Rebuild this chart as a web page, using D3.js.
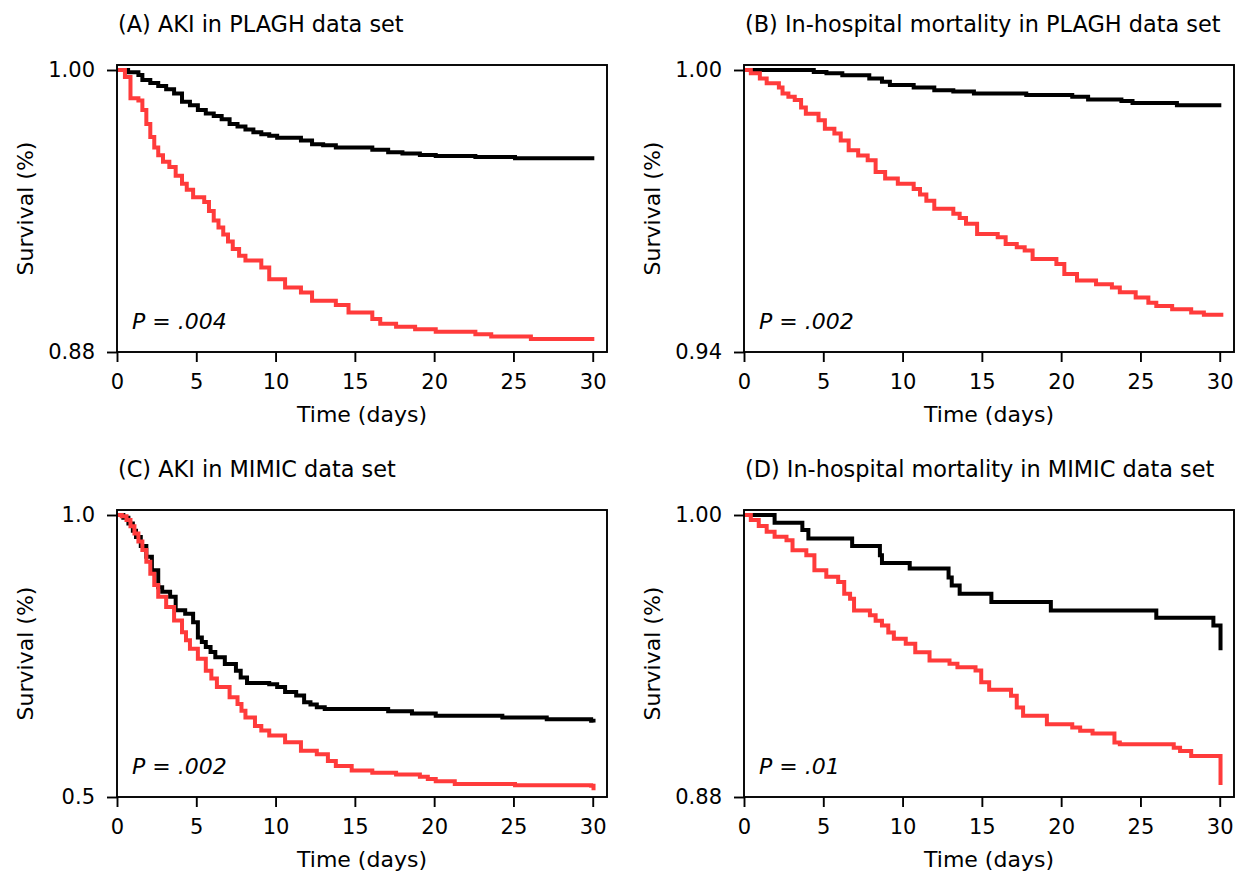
<!DOCTYPE html>
<html>
<head>
<meta charset="utf-8">
<script src="https://cdn.jsdelivr.net/npm/d3@7"></script>
<style>
  body { margin: 0; background: #fff; }
  text { font-family: "DejaVu Sans", sans-serif; fill: #000; }
</style>
</head>
<body>
<div id="chart"></div>
<script>

var svgWidth = 1242;
var svgHeight = 873;

// x ticks shared by all panels
var xTicks = [0, 5, 10, 15, 20, 25, 30];

// (A) AKI in PLAGH
var aLowT = [0, 0.7, 1.35, 1.6, 2.1, 2.6, 3.1, 3.6, 4.1, 4.6, 5.1, 5.6, 6.1, 6.6, 7.1, 7.6, 8.1, 8.6, 9.1, 9.6, 10.1, 11.6, 12.3, 13.0, 13.8, 16.1, 17.1, 18.0, 19.1, 20.1, 22.6, 25.1, 30.1];
var aLowS = [1, 0.999, 0.9979, 0.9957, 0.9945, 0.9932, 0.9918, 0.990, 0.9865, 0.985, 0.983, 0.9815, 0.9804, 0.979, 0.977, 0.976, 0.9747, 0.9735, 0.9727, 0.972, 0.9712, 0.970, 0.9684, 0.968, 0.967, 0.9661, 0.965, 0.9645, 0.9638, 0.9634, 0.963, 0.9624, 0.9624];
var aHighT = [0, 0.5, 0.85, 1.35, 1.6, 1.85, 2.1, 2.35, 2.6, 2.9, 3.3, 3.7, 4.1, 4.4, 4.8, 5.5, 5.8, 6.1, 6.4, 6.7, 7.0, 7.3, 7.7, 8.1, 9.1, 9.6, 10.6, 11.6, 12.3, 13.8, 14.6, 16.1, 16.6, 17.6, 18.8, 20.1, 22.6, 23.6, 26.1, 30.1];
var aHighS = [1, 0.997, 0.988, 0.987, 0.983, 0.977, 0.9715, 0.967, 0.9637, 0.961, 0.9587, 0.955, 0.9516, 0.949, 0.9459, 0.9438, 0.940, 0.936, 0.933, 0.930, 0.927, 0.9238, 0.921, 0.9189, 0.916, 0.911, 0.9075, 0.9053, 0.9018, 0.900, 0.8968, 0.894, 0.892, 0.8907, 0.8897, 0.8886, 0.8876, 0.8866, 0.8855, 0.8855];

// (B) In-hospital mortality in PLAGH
var bLowT = [0, 4.4, 5.2, 6.2, 7.9, 8.7, 9.2, 10.7, 12.0, 13.2, 14.5, 17.8, 20.7, 21.7, 23.8, 24.5, 27.3, 30.1];
var bLowS = [1, 0.9996, 0.9993, 0.9989, 0.9982, 0.9975, 0.9968, 0.9963, 0.9957, 0.9954, 0.995, 0.9947, 0.9943, 0.9937, 0.9934, 0.993, 0.9925, 0.9925];
var bHighT = [0, 0.43, 1.0, 1.43, 2.2, 2.43, 2.8, 3.2, 3.6, 3.9, 4.7, 5.1, 5.7, 6.1, 6.6, 7.2, 7.8, 8.3, 8.9, 9.7, 10.7, 11.1, 11.5, 12.0, 13.2, 13.6, 14.0, 14.7, 16.0, 16.5, 17.2, 17.7, 18.2, 19.7, 20.2, 21.0, 22.2, 23.2, 23.7, 24.7, 25.5, 26.0, 27.0, 28.2, 29.0, 30.1];
var bHighS = [1, 0.9993, 0.9982, 0.9972, 0.9963, 0.995, 0.9943, 0.9936, 0.992, 0.9907, 0.9893, 0.9875, 0.9865, 0.985, 0.9829, 0.9818, 0.9808, 0.9783, 0.9769, 0.9758, 0.9747, 0.9735, 0.9722, 0.9705, 0.9694, 0.9685, 0.9673, 0.9651, 0.9644, 0.963, 0.9623, 0.9616, 0.9598, 0.9587, 0.9566, 0.9552, 0.9544, 0.9537, 0.9527, 0.9516, 0.9505, 0.9498, 0.9491, 0.9484, 0.9479, 0.9475];

// (C) AKI in MIMIC
var cLowT = [0, 0.4, 0.72, 1.0, 1.2, 1.5, 1.85, 2.2, 2.6, 2.85, 3.35, 3.7, 4.3, 4.8, 5.1, 5.35, 5.6, 5.9, 6.2, 6.8, 7.5, 7.8, 8.2, 9.6, 10.1, 10.6, 11.3, 11.8, 12.2, 12.6, 13.1, 16.8, 17.1, 18.6, 20.1, 24.3, 27.1, 29.9, 30.05];
var cLowS = [1, 0.995, 0.985, 0.972, 0.961, 0.945, 0.926, 0.902, 0.872, 0.864, 0.855, 0.831, 0.825, 0.810, 0.783, 0.775, 0.766, 0.757, 0.748, 0.736, 0.724, 0.712, 0.702, 0.700, 0.695, 0.686, 0.680, 0.668, 0.664, 0.659, 0.656, 0.656, 0.652, 0.648, 0.644, 0.641, 0.638, 0.635, 0.632];
var cHighT = [0, 0.3, 0.6, 0.85, 1.1, 1.35, 1.6, 1.85, 2.1, 2.35, 2.6, 3.1, 3.6, 4.1, 4.35, 4.6, 5.1, 5.6, 5.95, 6.3, 7.1, 7.6, 7.85, 8.1, 8.7, 9.1, 9.6, 10.6, 11.6, 12.6, 13.3, 13.8, 14.8, 16.1, 17.6, 19.1, 19.6, 20.1, 21.3, 25.1, 29.9, 30.05];
var cHighS = [1, 0.998, 0.991, 0.980, 0.967, 0.953, 0.938, 0.917, 0.896, 0.876, 0.855, 0.837, 0.813, 0.792, 0.778, 0.763, 0.745, 0.724, 0.710, 0.695, 0.677, 0.665, 0.653, 0.641, 0.626, 0.618, 0.609, 0.597, 0.582, 0.576, 0.564, 0.555, 0.547, 0.543, 0.540, 0.536, 0.532, 0.528, 0.523, 0.521, 0.520, 0.512];

// (D) In-hospital mortality in MIMIC
var dLowT = [0, 1.93, 3.68, 4.06, 6.82, 8.57, 8.7, 10.45, 12.9, 13.1, 13.6, 15.6, 19.35, 26.0, 29.6, 30.05];
var dLowS = [1, 0.9967, 0.9936, 0.990, 0.9868, 0.9829, 0.9796, 0.9772, 0.9734, 0.970, 0.9665, 0.963, 0.9594, 0.9563, 0.953, 0.9424];
var dHighT = [0, 0.43, 0.93, 1.43, 1.93, 2.68, 3.06, 3.93, 4.44, 5.19, 5.94, 6.32, 6.69, 6.94, 7.94, 8.3, 8.7, 9.1, 9.45, 10.2, 10.8, 11.7, 12.96, 13.46, 14.6, 14.96, 15.46, 16.84, 17.2, 17.6, 19.1, 20.7, 21.2, 21.98, 23.36, 23.7, 27.1, 27.5, 28.2, 30.05];
var dHighS = [1, 0.9979, 0.9953, 0.9929, 0.9907, 0.9893, 0.985, 0.9829, 0.9765, 0.9737, 0.9715, 0.9665, 0.9644, 0.9594, 0.9573, 0.955, 0.953, 0.950, 0.9473, 0.9452, 0.9416, 0.9381, 0.9367, 0.9352, 0.9338, 0.9288, 0.9256, 0.9231, 0.9181, 0.9146, 0.911, 0.9096, 0.9082, 0.907, 0.9032, 0.9025, 0.901, 0.8996, 0.8975, 0.8851];

var titles = ["(A) AKI in PLAGH data set", "(B) In-hospital mortality in PLAGH data set",
              "(C) AKI in MIMIC data set", "(D) In-hospital mortality in MIMIC data set"];
var yMins = [0.88, 0.94, 0.5, 0.88];
var yTickLabels = [["0.88", "1.00"], ["0.94", "1.00"], ["0.5", "1.0"], ["0.88", "1.00"]];
var pValues = ["P = .004", "P = .002", "P = .002", "P = .01"];

var panels = [
    { left: 117, top: 65, low: [aLowT, aLowS], high: [aHighT, aHighS] },
    { left: 744, top: 65, low: [bLowT, bLowS], high: [bHighT, bHighS] },
    { left: 117, top: 510, low: [cLowT, cLowS], high: [cHighT, cHighS] },
    { left: 744, top: 510, low: [dLowT, dLowS], high: [dHighT, dHighS] }
];

var boxWidth = 490;
var boxHeight = 287;

var svg = d3.select("#chart")
    .append("svg")
    .attr("width", svgWidth)
    .attr("height", svgHeight);

function zipCurve(ts, ss) {
    return ts.map(function(t, i) { return { t: t, s: ss[i] }; });
}

panels.forEach(function(p, i) {

    var g = svg.append("g")
        .attr("transform", `translate(${p.left}, ${p.top})`);

    var x = d3.scaleLinear()
        .domain([0, 30.9])
        .range([0, boxWidth]);

    var y = d3.scaleLinear()
        .domain([yMins[i], 1])
        .range([boxHeight, 5]);

    var line = d3.line()
        .x(d => x(d.t))
        .y(d => y(d.s))
        .curve(d3.curveStepAfter);

    g.append("path")
        .datum(zipCurve(p.low[0], p.low[1]))
        .attr("d", line)
        .attr("fill", "none")
        .attr("stroke", "#000")
        .attr("stroke-width", 4);

    g.append("path")
        .datum(zipCurve(p.high[0], p.high[1]))
        .attr("d", line)
        .attr("fill", "none")
        .attr("stroke", "#ff3b3b")
        .attr("stroke-width", 4);

    g.append("rect")
        .attr("width", boxWidth)
        .attr("height", boxHeight)
        .attr("fill", "none")
        .attr("stroke", "#000")
        .attr("stroke-width", 1.9);

    var bottomAxis = d3.axisBottom(x)
        .tickValues(xTicks)
        .tickSize(10)
        .tickPadding(12);

    var leftAxis = d3.axisLeft(y)
        .tickValues([yMins[i], 1])
        .tickFormat((d, k) => yTickLabels[i][k])
        .tickSize(10)
        .tickPadding(12);

    var xAxis = g.append("g")
        .attr("transform", `translate(0, ${boxHeight})`)
        .call(bottomAxis);

    var yAxis = g.append("g")
        .call(leftAxis);

    [xAxis, yAxis].forEach(function(ax) {
        ax.select(".domain").remove();
        ax.selectAll("line").attr("stroke", "#000").attr("stroke-width", 1.9);
        ax.selectAll("text")
            .attr("fill", "#000")
            .style("font-family", "DejaVu Sans")
            .style("font-size", "21px");
    });

    g.append("text")
        .attr("x", 1)
        .attr("y", -33)
        .style("font-size", "22.4px")
        .text(titles[i]);

    g.append("text")
        .attr("x", boxWidth / 2)
        .attr("y", boxHeight + 70)
        .attr("text-anchor", "middle")
        .style("font-size", "22px")
        .text("Time (days)");

    g.append("text")
        .attr("transform", `translate(-84, ${boxHeight / 2}) rotate(-90)`)
        .attr("text-anchor", "middle")
        .style("font-size", "22px")
        .text("Survival (%)");

    g.append("text")
        .attr("x", 15)
        .attr("y", 264)
        .style("font-size", "22px")
        .style("font-style", "italic")
        .text(pValues[i]);
});

</script>
</body>
</html>
